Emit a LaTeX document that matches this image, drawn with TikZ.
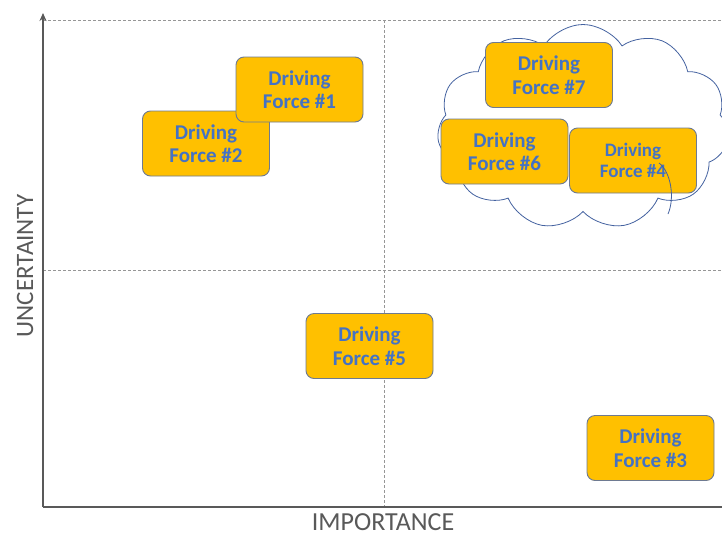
\documentclass[tikz,border=0pt]{standalone}
\usepackage{fontspec}
\setmainfont{Carlito}
\usetikzlibrary{shapes.symbols,arrows.meta}
\definecolor{boxfill}{RGB}{255,192,0}
\definecolor{boxedge}{RGB}{110,122,145}
\definecolor{boxtext}{RGB}{68,114,196}
\definecolor{axisgray}{RGB}{89,89,89}
\definecolor{gridgray}{RGB}{150,150,150}
\definecolor{cloudedge}{RGB}{68,98,160}
\tikzset{
  force/.style={draw=boxedge, line width=0.9pt, fill=boxfill, rounded corners=8pt,
    minimum width=127pt, minimum height=65pt, inner sep=0pt, align=center,
    text=boxtext, font=\fontsize{21}{23.5}\selectfont\bfseries},
  smallforce/.style={force, font=\fontsize{19}{21}\selectfont\bfseries},
  grid/.style={draw=gridgray, line width=0.8pt, dash pattern=on 3pt off 2pt},
  axis/.style={draw=axisgray, line width=2.4pt},
  axislabel/.style={text=axisgray, font=\fontsize{26}{26}\selectfont, inner sep=0pt},
}
\begin{document}
\begin{tikzpicture}[x=1pt,y=-1pt]
\useasboundingbox (0,0) rectangle (722,536);
\fill[white] (0,0) rectangle (722,536);

% quadrant grid
\coordinate (gtl) at (43,20);
\coordinate (gtr) at (722,20);
\coordinate (gml) at (43,270);
\coordinate (gmr) at (722,270);
\coordinate (gvt) at (384,20);
\coordinate (gvb) at (384,507);
\draw[grid] (gtl) -- (gtr);
\draw[grid] (gml) -- (gmr);
\draw[grid] (gvt) -- (gvb);

% axes
\coordinate (origin) at (43,507);
\coordinate (ytip) at (43,13);
\coordinate (xend) at (722,507);
\draw[axis, -{Stealth[length=8pt,width=7pt]}] (origin) -- (ytip);
\draw[axis] (origin) -- (xend);

\node[axislabel, rotate=90, font=\fontsize{25}{25}\selectfont] (ylab) at (25,266) {UNCERTAINTY};
\node[axislabel] (xlab) at (383,522) {IMPORTANCE};

% cloud of related forces
\node[cloud, cloud puffs=11, cloud puff arc=115, aspect=1.45, draw=cloudedge,
  line width=0.8pt, fill=white, minimum width=292pt, minimum height=205pt,
  inner sep=0pt] (cloud) at (583,127) {};

% driving forces
\node[force] (f2) at (206,143.5) {Driving\\Force \#2};
\node[force] (f1) at (299.5,89.5) {Driving\\Force \#1};
\node[force] (f7) at (549,75) {Driving\\Force \#7};
\node[smallforce] (f4) at (633,160.5) {Driving\\Force \#4};
\node[force] (f6) at (504.5,151.5) {Driving\\Force \#6};
\node[force] (f5) at (369.5,346) {Driving\\Force \#5};
\node[force] (f3) at (650.5,448) {Driving\\Force \#3};

% inner puff arc of the cloud showing over force 4
\coordinate (pa) at (659,163);
\coordinate (pb) at (668,214);
\draw[cloudedge, line width=0.8pt] (pa) .. controls (671,172) and (675,198) .. (pb);
\end{tikzpicture}
\end{document}
